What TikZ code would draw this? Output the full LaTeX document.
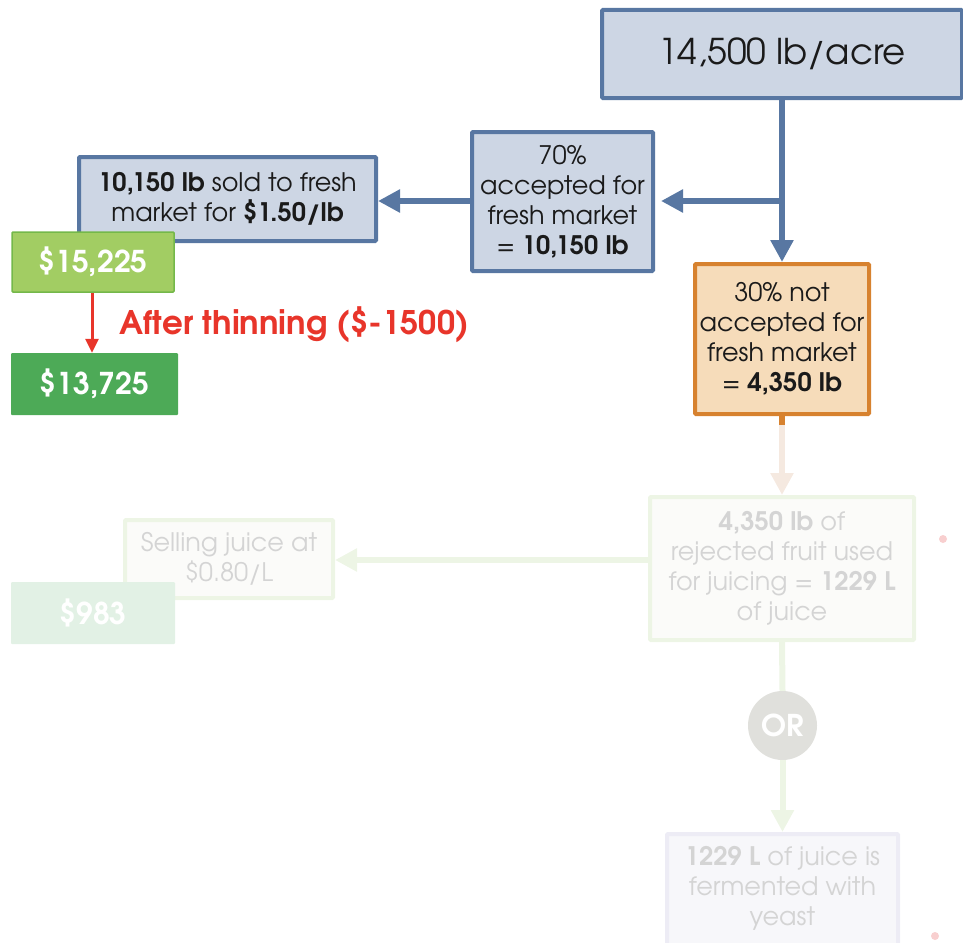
\documentclass[tikz,border=0pt]{standalone}
\usepackage{fontspec}
\setmainfont{TeX Gyre Adventor}
\usetikzlibrary{arrows.meta}

\definecolor{boxblue}{HTML}{CDD6E4}
\definecolor{edgeblue}{HTML}{5877A2}
\definecolor{inkdark}{HTML}{1A1A1A}
\definecolor{greenlight}{HTML}{A2CD63}
\definecolor{greenlightedge}{HTML}{74B84A}
\definecolor{greendark}{HTML}{4DAA57}
\definecolor{warnred}{HTML}{E8352A}
\definecolor{boxorange}{HTML}{F6DCBA}
\definecolor{edgeorange}{HTML}{D7822F}
\definecolor{fadepeach}{HTML}{F5E9E0}
\definecolor{fadegreen}{HTML}{EDF5E5}
\definecolor{fadefill}{HTML}{FBFBF9}
\definecolor{fadetext}{HTML}{D4D4D4}
\definecolor{fademint}{HTML}{E2F1E5}
\definecolor{fadegrey}{HTML}{E0E0DC}
\definecolor{fadelilac}{HTML}{EDECF5}
\definecolor{fadelilacfill}{HTML}{F7F7FA}
\definecolor{dotpink}{HTML}{F8CFCF}

\tikzset{
  bodytext/.style={font=\fontsize{25.5}{30}\selectfont, align=center},
  bluebox/.style={bodytext, draw=edgeblue, fill=boxblue, line width=4pt,
    inner sep=0pt, text=inkdark, rounded corners=1pt},
  orangebox/.style={bodytext, draw=edgeorange, fill=boxorange, line width=4pt,
    inner sep=0pt, text=inkdark, rounded corners=1pt},
  fadebox/.style={bodytext, draw=fadegreen, fill=fadefill, line width=4pt,
    inner sep=0pt, text=fadetext, rounded corners=1pt},
  moneybox/.style={inner sep=0pt, text=white, rounded corners=1pt,
    font=\fontsize{30}{34}\selectfont\bfseries},
  bluearrow/.style={draw=edgeblue, line width=6pt,
    -{Triangle[length=22pt,width=22pt]}},
  redarrow/.style={draw=warnred, line width=3pt,
    -{Triangle[length=14pt,width=13pt]}},
  fadearrow/.style={line width=6pt, -{Triangle[length=22pt,width=22pt]}},
}

\begin{document}
\begin{tikzpicture}[x=1pt,y=-1pt]
\useasboundingbox (0,0) rectangle (963,942);
\clip (0,0) rectangle (963,942);

% ---- fresh-market branch ----
\node[bluebox, minimum width=360pt, minimum height=88pt,
      font=\fontsize{35.5}{40}\selectfont] (top) at (782,54) {14,500 lb/acre};

\node[bluebox, minimum width=181pt, minimum height=139pt] (a70) at (562.5,201.5)
  {70\%\\accepted for\\fresh market\\= \textbf{10,150 lb}};

\node[bluebox, minimum width=297pt, minimum height=84pt] (s10) at (227.5,199)
  {\textbf{10,150 lb} sold to fresh\\market for \textbf{\$1.50/lb}};

\node[orangebox, minimum width=174pt, minimum height=150pt] (p30) at (782,339)
  {30\% not\\accepted for\\fresh market\\= \textbf{4,350 lb}};

\coordinate (split) at (782,201);
\draw[bluearrow] (top.south) -- (p30.north);
\draw[bluearrow, shorten >=6pt] (split) -- (split -| a70.east);
\draw[bluearrow] (a70.west |- split) -- (s10.east |- split);

\node[moneybox, fill=greenlight, draw=greenlightedge, line width=1.5pt,
      minimum width=162pt, minimum height=60pt] (g1) at (93,262) {\$15,225};
\node[moneybox, fill=greendark, minimum width=167pt, minimum height=62pt]
  (g2) at (94.5,384) {\$13,725};
\draw[redarrow] ([xshift=-1pt]g1.south) -- ([xshift=-2.5pt]g2.north);
\node[anchor=west, text=warnred, inner sep=0pt,
      font=\fontsize{32.5}{36}\selectfont\bfseries] (thin) at (119,325)
  {After thinning (\$-1500)};

% ---- juice branch (faded) ----
\node[fadebox, minimum width=264pt, minimum height=143pt] (juice) at (782,568.5)
  {\textbf{4,350 lb} of\\rejected fruit used\\for juicing = \textbf{1229 L}\\of juice};
\draw[fadearrow, draw=fadepeach] (p30.south) -- (juice.north);
\draw[draw=edgeorange, line width=6pt] (p30.south) -- ++(0,9);

\node[fadebox, minimum width=208pt, minimum height=78pt] (sell) at (229,559)
  {Selling juice at\\\$0.80/L};
\draw[fadearrow, draw=fadegreen] (juice.west |- 0,560) -- (sell.east |- 0,560);

\node[moneybox, fill=fademint, minimum width=164pt, minimum height=62pt]
  (g3) at (93,613) {\$983};

\node[circle, fill=fadegrey, minimum size=69pt, inner sep=0pt, text=white,
      font=\fontsize{30}{34}\selectfont\bfseries] (orc) at (782.5,725.5) {OR};
\node[bodytext, draw=fadelilac, fill=fadelilacfill, line width=4pt, inner sep=0pt,
      rounded corners=1pt, minimum width=231pt, minimum height=116pt]
  (ferm) at (782.5,892) {};
\node[bodytext, text=fadetext, inner sep=0pt] (fermtxt) at (782.5,888)
  {\textbf{1229 L} of juice is\\fermented with\\yeast};
\draw[draw=fadegreen, line width=6pt] (juice.south) -- (orc.north);
\draw[fadearrow, draw=fadegreen] (orc.south) -- (ferm.north);

% ---- stray dots ----
\node[circle, fill=dotpink, minimum size=8pt, inner sep=0pt] (dotA) at (943,539) {};
\node[circle, fill=dotpink, minimum size=8pt, inner sep=0pt] (dotB) at (935,936) {};
\end{tikzpicture}
\end{document}
